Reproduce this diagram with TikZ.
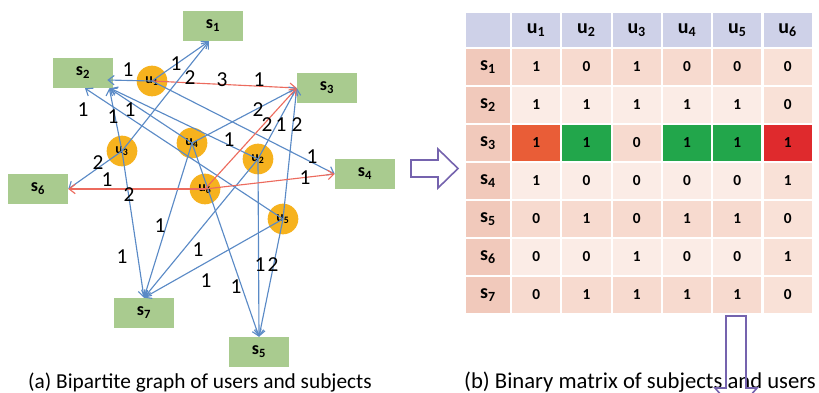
\documentclass[tikz,border=0pt]{standalone}
\usepackage{fontspec}
\setmainfont{Carlito}
\usetikzlibrary{arrows.meta,calc}

\definecolor{subjgreen}{HTML}{A9CB8F}
\definecolor{userorange}{HTML}{F6B21E}
\definecolor{edgeblue}{HTML}{5A8AC6}
\definecolor{edgered}{HTML}{EC6B5E}
\definecolor{headlav}{HTML}{CED1E8}
\definecolor{firstcol}{HTML}{F1C9BB}
\definecolor{oddrow}{HTML}{F7DACF}
\definecolor{evenrow}{HTML}{FBECE6}
\definecolor{lastcol}{HTML}{F9E1D7}
\definecolor{hiorange}{HTML}{E95D37}
\definecolor{higreen}{HTML}{22A64B}
\definecolor{hired}{HTML}{DF2A2D}
\definecolor{arrowpurple}{HTML}{7563AE}

\begin{document}
\begin{tikzpicture}[x=0.75pt, y=-0.75pt,
    subj/.style={rectangle, fill=subjgreen, minimum width=45pt, minimum height=22.5pt, inner sep=0pt, font=\fontsize{13.5}{14}\selectfont\bfseries},
    usr/.style={circle, fill=userorange, minimum size=23pt, inner sep=0pt, font=\fontsize{10.5}{11}\selectfont\bfseries},
    wlabel/.style={inner sep=0pt, font=\fontsize{16}{16}\selectfont},
    link/.style={draw=edgeblue, line width=0.85pt, -{Straight Barb[length=4.5pt,width=7pt]}},
    hot/.style={link, draw=edgered},
    cell/.style={rectangle, minimum width=36.2pt, minimum height=27pt, inner sep=0pt, font=\fontsize{11.5}{12}\selectfont\bfseries},
    headcell/.style={cell, fill=headlav, minimum height=25.5pt, font=\fontsize{15}{16}\selectfont\bfseries},
    rowcell/.style={cell, fill=firstcol, minimum width=33pt, font=\fontsize{15}{16}\selectfont\bfseries},
    captext/.style={inner sep=0pt, anchor=base, font=\fontsize{16}{17}\selectfont},
    bigarrow/.style={draw=arrowpurple, line width=1.2pt}]

    \useasboundingbox (0,0) rectangle (819,393);

    % subjects
    \node[subj] (s1) at (213,26) {s\textsubscript{1}};
    \node[subj] (s2) at (83,73) {s\textsubscript{2}};
    \node[subj] (s3) at (327,88) {s\textsubscript{3}};
    \node[subj] (s4) at (365,174) {s\textsubscript{4}};
    \node[subj] (s5) at (259,352) {s\textsubscript{5}};
    \node[subj] (s6) at (38,189) {s\textsubscript{6}};
    \node[subj] (s7) at (144,313) {s\textsubscript{7}};

    % users
    \node[usr] (u1) at (152,81) {u\textsubscript{1}};
    \node[usr] (u2) at (258,159) {u\textsubscript{2}};
    \node[usr] (u3) at (122,151) {u\textsubscript{3}};
    \node[usr] (u4) at (192,143) {u\textsubscript{4}};
    \node[usr] (u5) at (283,219) {u\textsubscript{5}};
    \node[usr] (u6) at (205,189) {u\textsubscript{6}};

    % edges
    \draw[link] (u1.center) -- ($(s1.south)+(-4,0)$);
    \draw[link] (u1.center) -- ($(s2.east)+(-6,7)$);
    \draw[hot] (u1.center) -- (s3.west);
    \draw[link] (u1.center) -- (s4.west);
    \draw[link] (u2.center) -- ($(s2.south east)+(-3,0)$);
    \draw[link] (u2.center) -- (s3.west);
    \draw[link] (u2.center) -- (s5.north);
    \draw[link] (u2.center) -- (s7.north);
    \draw[link] (u3.center) -- ($(s1.south)+(-4,0)$);
    \draw[link] (u3.center) -- ($(s2.south east)+(-4,0)$);
    \draw[link] (u3.center) -- (s6.east);
    \draw[link] (u3.center) -- (s7.north);
    \draw[link] (u4.center) -- ($(s2.south east)+(-4,0)$);
    \draw[link] (u4.center) -- (s3.west);
    \draw[link] (u4.center) -- (s5.north);
    \draw[link] (u4.center) -- (s7.north);
    \draw[link] (u5.center) -- ($(s2.south)+(2,0)$);
    \draw[link] (u5.center) -- (s3.west);
    \draw[link] (u5.center) -- (s5.north);
    \draw[link] (u5.center) -- (s7.north);
    \draw[hot] (u6.center) -- (s3.west);
    \draw[hot] (u6.center) -- (s4.west);
    \draw[hot] (u6.center) -- (s6.east);

    % weights
    \foreach \x/\y/\t [count=\i] in {128/70/1, 176/64/1, 190/78/2, 222/80/3, 259/80/1,
        83/110/1, 113/117/1, 130/110/1, 258/110/2, 267/125/2, 281/125/1, 297/125/2,
        229/140/1, 312/157/1, 305/178/1, 98/163/2, 107/180/1, 129/195/2,
        160/226/1, 122/257/1, 198/250/1, 206/281/1, 236/287/1, 260/265/1, 273/265/2}
        \node[wlabel] (w\i) at (\x,\y) {\t};

    % arrow to the matrix
    \draw[bigarrow, fill=white] (411,160) -- (438,160) -- (438,149) -- (458,168.5)
        -- (438,188) -- (438,177) -- (411,177) -- cycle;

    % matrix
    \node[headcell, minimum width=33pt] (h0) at (488,30) {};
    \foreach \c in {1,...,6}
        \node[headcell] (h\c) at ({511+50.3*(\c-0.5)},30) {u\textsubscript{\c}};
    \foreach \r/\vals in {1/{1,0,1,0,0,0}, 2/{1,1,1,1,1,0}, 3/{1,1,0,1,1,1}, 4/{1,0,0,0,0,1},
        5/{0,1,0,1,1,0}, 6/{0,0,1,0,0,1}, 7/{0,1,1,1,1,0}} {
        \ifodd\r \def\rowcol{oddrow}\else\def\rowcol{evenrow}\fi
        \node[rowcell] (r\r) at (488,{67+38*(\r-1)}) {s\textsubscript{\r}};
        \foreach \v [count=\c] in \vals {
            \ifnum\c=6 \def\cellcol{lastcol}\else\let\cellcol\rowcol\fi
            \node[cell, fill=\cellcol] (c\r\c) at ({511+50.3*(\c-0.5)},{67+38*(\r-1)}) {\v};
        }
    }
    % s3 row marked
    \foreach \c/\hc in {1/hiorange, 2/higreen, 4/higreen, 5/higreen, 6/hired}
        \node[cell, fill=\hc] (hi\c) at (c3\c) {1};

    % captions
    \node[captext] (capa) at (200,388) {(a) Bipartite graph of users and subjects};
    \node[captext, font=\fontsize{17}{18}\selectfont] (capb) at (640,388) {(b) Binary matrix of subjects and users};

    % arrow going down, cut at the edge
    \begin{scope}
        \clip (0,0) rectangle (819,393);
        \draw[bigarrow] (726,316) -- (746,316) -- (746,388) -- (757,388) -- (736,412)
            -- (715,388) -- (726,388) -- cycle;
    \end{scope}
\end{tikzpicture}
\end{document}
